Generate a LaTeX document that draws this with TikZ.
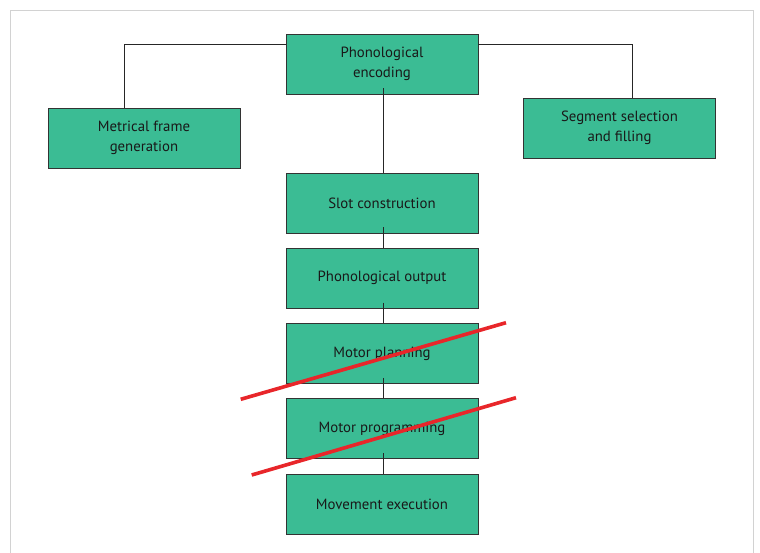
\documentclass[tikz,border=0pt]{standalone}
\usepackage{fontspec}
\setmainfont{PT Sans}
\definecolor{boxgreen}{HTML}{3BBC94}
\definecolor{boxline}{HTML}{333333}
\definecolor{crossred}{HTML}{E8262A}
\definecolor{framegray}{HTML}{D2D2D2}
\usetikzlibrary{positioning}

\begin{document}
\begin{tikzpicture}[x=1pt, y=-1pt,
    stage/.style={draw=boxline, fill=boxgreen, line width=0.9pt, text=black!90,
      minimum width=192pt, minimum height=60pt, inner sep=0pt, align=center,
      font=\fontsize{14.8}{20}\selectfont},
    link/.style={draw=black!85, line width=0.8pt},
    cross/.style={draw=crossred, line width=3.6pt}]
      \useasboundingbox (0,0) rectangle (760,553);
      % Frame
      \draw[framegray, line width=1.5pt] (10.5,553) -- (10.5,10.5) -- (753.5,10.5) -- (753.5,553);
      % Top row
      \node[stage] (encoding) at (382,64) {Phonological\\encoding};
      \node[stage] (metrical) at (144,138) {Metrical frame\\generation};
      \node[stage] (segment) at (619.5,128) {Segment selection\\and filling};
      % Chain
      \foreach \name/\txt [count=\i] in {slot/Slot construction,
          output/Phonological output, planning/Motor planning,
          programming/Motor programming, execution/Movement execution} {
        \node[stage] (\name) at (382,{203+75.25*(\i-1)}) {\txt};
      }
      % Links
      \draw[link] ([yshift=20pt]encoding.west) -| (metrical.north -| 124,0);
      \draw[link] ([yshift=20pt]encoding.east) -| (segment.north -| 632,0);
      \draw[link] ([xshift=1pt,yshift=6pt]encoding.south) -- ([xshift=1pt]slot.north);
      \draw[link] ([xshift=1pt,yshift=6pt]slot.south) -- ([xshift=1pt]output.north);
      \draw[link] ([xshift=1pt,yshift=6pt]output.south) -- ([xshift=1pt]planning.north);
      \draw[link] ([xshift=1pt,yshift=6pt]planning.south) -- ([xshift=1pt]programming.north);
      \draw[link] ([xshift=1pt,yshift=6pt]programming.south) -- ([xshift=1pt]execution.north);
      % Crossed out
      \draw[cross] (240.7,399.3) -- (506,322.7);
      \draw[cross] (251.7,475) -- (516,397.7);
\end{tikzpicture}
\end{document}
